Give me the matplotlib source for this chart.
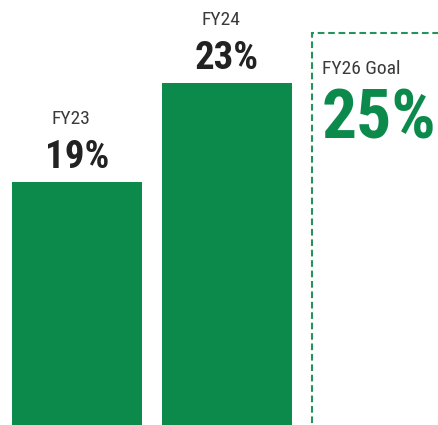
import matplotlib.pyplot as plt
from matplotlib import font_manager as fm
from matplotlib.patches import Rectangle

# share of the metric per fiscal year, plus the target
years = ["FY23", "FY24"]
values = [19, 23]
goal_label = "FY26 Goal"
goal_value = 25

green = "#0b8a4c"
dash_green = "#24935c"
text_gray = "#3a3a3a"


def pick_font(weight, size):
    # prefer a static Roboto Condensed file of the wanted weight
    cands = sorted(f.fname for f in fm.fontManager.ttflist
                   if f.name == "Roboto Condensed" and f.weight == weight
                   and f.style == "normal" and "[" not in f.fname)
    if cands:
        return fm.FontProperties(fname=cands[0], size=size)
    return fm.FontProperties(family=["Roboto Condensed", "DejaVu Sans"],
                             weight=weight, size=size)


fig = plt.figure(figsize=(4.38, 4.25), dpi=100)
ax = fig.add_axes([0, 0, 1, 1])

x = list(range(len(years)))
width = 0.867
ax.bar(x, values, width=width, color=green)

for xi, v, name in zip(x, values, years):
    ax.annotate(f"{v}%", (xi, v), xytext=(0, 10), textcoords="offset points",
                ha="center", va="baseline", fontproperties=pick_font(700, 28),
                color="#222222")
    ax.annotate(name, (xi - 0.04, v), xytext=(0, 42), textcoords="offset points",
                ha="center", va="baseline", fontproperties=pick_font(400, 14),
                color=text_gray)

# dashed outline for the goal
gx = len(years)
box = Rectangle((gx - width / 2, 0), width, goal_value, fill=False,
                edgecolor=dash_green, linestyle=(0, (3.2, 1.8)), linewidth=1.5)
ax.add_patch(box)
ax.annotate(goal_label, (gx - width / 2, goal_value), xytext=(7, -29.5),
            textcoords="offset points", ha="left", va="baseline",
            fontproperties=pick_font(400, 14), color=text_gray)
ax.annotate(f"{goal_value}%", (gx - width / 2, goal_value), xytext=(7, -76),
            textcoords="offset points", ha="left", va="baseline",
            fontproperties=pick_font(700, 50), color=green)

ax.set_xlim(-0.513, 2.407)
ax.set_ylim(9.18, 26.35)
ax.axis("off")

fig.savefig("out.png", dpi=100)
